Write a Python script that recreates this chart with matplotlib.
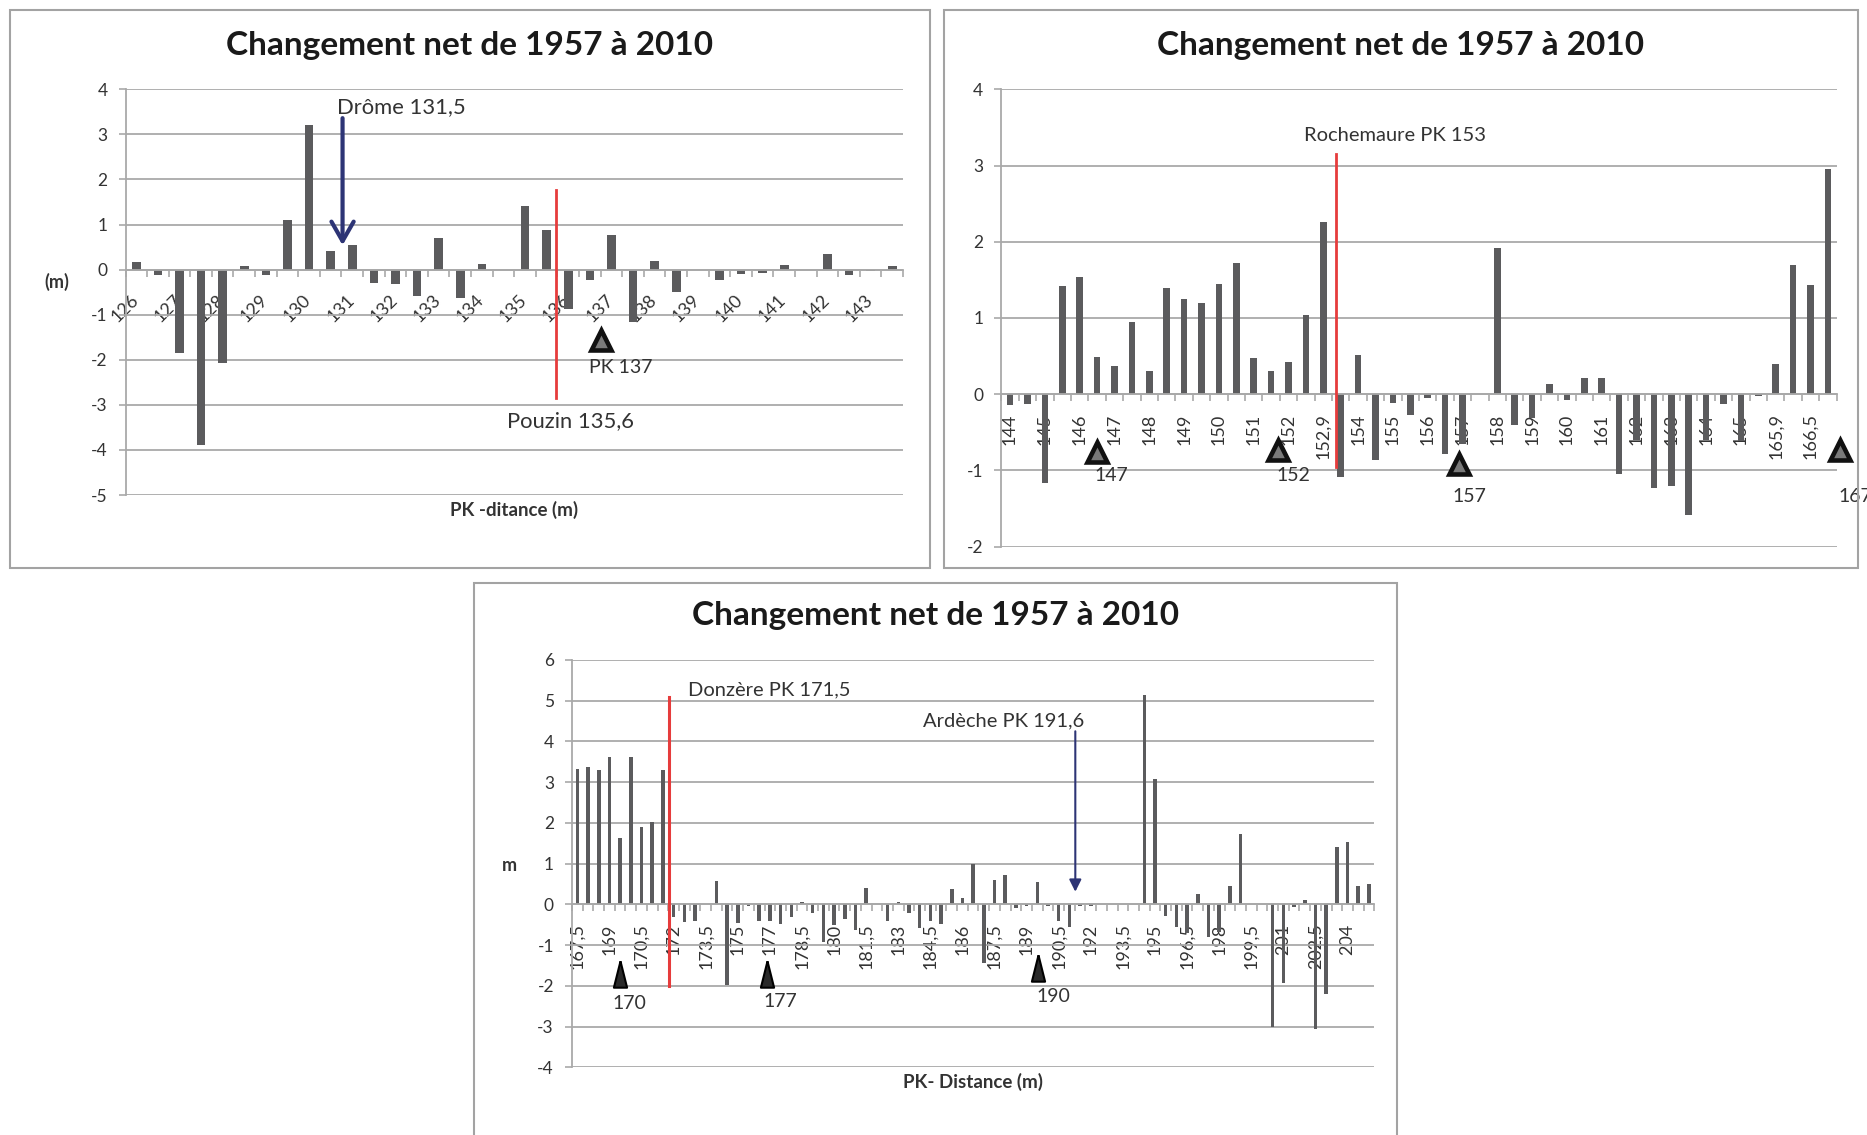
import numpy as np
import matplotlib
matplotlib.use('Agg')
import matplotlib.pyplot as plt
from matplotlib.patches import Rectangle
from matplotlib.transforms import ScaledTranslation

plt.rcParams['font.family'] = ['Lato', 'DejaVu Sans']
plt.rcParams['axes.unicode_minus'] = False

TITLE = 'Changement net de 1957 à 2010'

# panneau 1 : PK 126 a 143,5 (pas de 0,5)
p1_labels = ['126', '127', '128', '129', '130', '131', '132', '133', '134',
             '135', '136', '137', '138', '139', '140', '141', '142', '143']
p1_values = [0.17, -0.13, -1.85, -3.9, -2.07, 0.07, -0.13, 1.11, 3.21,
             0.41, 0.54, -0.29, -0.33, -0.59, 0.71, -0.64, 0.12, 0.0,
             1.41, 0.87, -0.88, -0.22, 0.77, -1.16, 0.19, -0.5, 0.0,
             -0.22, -0.1, -0.07, 0.1, 0.0, 0.34, -0.13, -0.04, 0.07]

# panneau 2 : PK 144 a 167
p2_labels = ['144', '145', '146', '147', '148', '149', '150', '151', '152',
             '152,9', '154', '155', '156', '157', '158', '159', '160', '161',
             '162', '163', '164', '165', '165,9', '166,5']
p2_values = [-0.14, -0.13, -1.16, 1.42, 1.54, 0.49, 0.37, 0.95, 0.30, 1.40,
             1.25, 1.20, 1.44, 1.72, 0.47, 0.30, 0.42, 1.04, 2.26, -1.09,
             0.52, -0.86, -0.11, -0.27, -0.05, -0.79, -0.65, 0.0, 1.92, -0.41,
             -0.31, 0.13, -0.07, 0.21, 0.21, -1.05, -0.6, -1.23, -1.20, -1.59,
             -0.6, -0.13, -0.62, -0.02, 0.40, 1.69, 1.43, 2.96]

# panneau 3 : PK 167,5 a 205
p3_labels = ['167,5', '169', '170,5', '172', '173,5', '175', '177', '178,5',
             '180', '181,5', '183', '184,5', '186', '187,5', '189', '190,5',
             '192', '193,5', '195', '196,5', '198', '199,5', '201', '202,5', '204']
p3_values = [3.33, 3.37, 3.30, 3.61, 1.64, 3.61, 1.91, 2.02, 3.30,
             -0.3, -0.43, -0.4, 0.0, 0.58, -1.98, -0.45, -0.05, -0.4, -0.42,
             -0.47, -0.3, 0.07, -0.22, -0.93, -0.5, -0.35, -0.63, 0.41, 0.0,
             -0.4, 0.05, -0.22, -0.59, -0.4, -0.47, 0.37, 0.15, 0.98, -1.45,
             0.61, 0.72, -0.1, -0.05, 0.54, -0.05, -0.4, -0.55, -0.05, -0.04,
             0.0, 0.0, 0.0, 0.0, 5.15, 3.08, -0.29, -0.55, -0.7, 0.25, -0.81,
             -0.67, 0.45, 1.73, 0.0, 0.0, -3.02, -1.94, -0.07, 0.1, -3.07,
             -2.21, 1.42, 1.54, 0.45, 0.49]

BAR = '#5b5b5d'
GRID = '#a9a9a9'
RED = '#e63c3c'
NAVY = '#2d3475'
TXT = '#333333'
W, H = 1867, 1135

fig = plt.figure(figsize=(W / 100, H / 100), dpi=100)


def frame(x0, y0, x1, y1):
    fig.patches.append(Rectangle((x0 / W, 1 - y1 / H), (x1 - x0) / W, (y1 - y0) / H,
                                 transform=fig.transFigure, fill=False,
                                 ec='#a3a3a3', lw=1.5))


def panel(rect, values, labels, step, ylim, width, rot, pad, lsize):
    ax = fig.add_axes(rect)
    n = len(values)
    x = np.arange(n)
    ax.bar(x, values, width=width, color=BAR, zorder=2)
    ax.set_xlim(-0.5, n - 0.5)
    ax.set_ylim(*ylim)
    ax.set_yticks(range(ylim[0], ylim[1] + 1))
    ax.yaxis.grid(True, color=GRID, lw=1.3)
    ax.set_axisbelow(True)
    for s in ['top', 'right']:
        ax.spines[s].set_visible(False)
    ax.spines['left'].set_color(GRID)
    ax.spines['bottom'].set_color(GRID)
    ax.spines['left'].set_linewidth(1.3)
    ax.spines['bottom'].set_linewidth(1.3)
    ax.spines['bottom'].set_position(('data', 0))
    ax.set_xticks(np.arange(n + 1) - 0.5)
    ax.set_xticklabels([])
    ax.set_xticks(x[::step], labels, minor=True)
    ax.tick_params(axis='x', which='major', length=5, width=1.2, color=GRID, direction='out')
    ax.tick_params(axis='x', which='minor', length=0, pad=pad, labelsize=lsize,
                   labelcolor=TXT, labelrotation=rot)
    ax.tick_params(axis='y', length=5, width=1.2, color=GRID, pad=8, labelsize=12.5,
                   labelcolor=TXT)
    return ax


def tri(ax, x, y):
    ax.plot(x, y, marker='^', ms=14, mfc='#7a7a7a', mec='#111111', mew=3.3,
            clip_on=False, zorder=6)


# cadres
frame(9.5, 9.5, 930, 568)
frame(944, 9.5, 1858, 568)
frame(474, 583, 1397, 1140)

# titres
for tx, ty in [(470, 45), (1401, 45), (936, 616)]:
    fig.text(tx / W, 1 - ty / H, TITLE, ha='center', va='center', fontsize=24,
             fontweight='bold', color='#1a1a1a')

# ---- panneau 1
ax1 = panel([125.5 / W, 1 - 495 / H, 777.5 / W, 405.7 / H], p1_values, p1_labels,
            2, (-5, 4), 0.40, 45, 16, 13)
for lab in ax1.get_xticklabels(minor=True):
    lab.set_ha('right')
    lab.set_transform(lab.get_transform() + ScaledTranslation(0.05, 0, fig.dpi_scale_trans))
ax1.text(-0.088, 0.525, '(m)', transform=ax1.transAxes, ha='center', va='center',
         fontsize=13, fontweight='bold', color=TXT)
ax1.text(0.5, -0.036, 'PK -ditance (m)', transform=ax1.transAxes, ha='center',
         va='center', fontsize=13.5, fontweight='bold', color=TXT)
ax1.text(9.28, 3.6, 'Drôme 131,5', ha='left', va='center', fontsize=15.8, color=TXT)
ax1.annotate('', xy=(9.55, 0.54), xytext=(9.55, 3.36),
             arrowprops=dict(arrowstyle='->,head_length=0.7,head_width=0.4',
                             color=NAVY, lw=3, shrinkA=0, shrinkB=0, mutation_scale=20))
ax1.plot([19.42, 19.42], [-2.84, 1.76], color=RED, lw=2, zorder=4)
ax1.text(17.15, -3.36, 'Pouzin 135,6', ha='left', va='center', fontsize=15.8, color=TXT)
tri(ax1, 21.5, -1.57)
ax1.text(20.96, -2.18, 'PK 137', ha='left', va='center', fontsize=14, color=TXT)

# ---- panneau 2
ax2 = panel([1001.3 / W, 1 - 546.7 / H, 835.4 / W, 457.4 / H], p2_values, p2_labels,
            2, (-2, 4), 0.38, 90, 13.7, 13)
ax2.plot([18.74, 18.74], [-0.95, 3.15], color=RED, lw=2, zorder=4)
ax2.text(16.9, 3.39, 'Rochemaure PK 153', ha='left', va='center', fontsize=14.5, color=TXT)
for tx, ty in [(5.0, -0.755), (15.4, -0.73), (25.8, -0.91), (47.7, -0.73)]:
    tri(ax2, tx, ty)
for tx, ty, s in [(5.8, -1.06, '147'), (16.3, -1.06, '152'), (26.4, -1.34, '157')]:
    ax2.text(tx, ty, s, ha='center', va='center', fontsize=14, color=TXT)
ax2.text(47.6, -1.34, '167', ha='left', va='center', fontsize=14, color=TXT, clip_on=False)

# ---- panneau 3
ax3 = panel([572 / W, 1 - 1067.3 / H, 802.3 / W, 407.3 / H], p3_values, p3_labels,
            3, (-4, 6), 0.33, 90, 13.7, 13)
ax3.text(-0.078, 0.495, 'm', transform=ax3.transAxes, ha='center', va='center',
         fontsize=13, fontweight='bold', color=TXT)
ax3.text(0.5, -0.036, 'PK- Distance (m)', transform=ax3.transAxes, ha='center',
         va='center', fontsize=13.5, fontweight='bold', color=TXT)
ax3.plot([8.6, 8.6], [-2.0, 5.1], color=RED, lw=2.2, zorder=4)
ax3.text(10.3, 5.27, 'Donzère PK 171,5', ha='left', va='center', fontsize=14.5, color=TXT)
ax3.text(39.85, 4.51, 'Ardèche PK 191,6', ha='center', va='center', fontsize=14.5, color=TXT)
ax3.annotate('', xy=(46.55, 0.31), xytext=(46.55, 4.25),
             arrowprops=dict(arrowstyle='-|>,head_length=0.36,head_width=0.18',
                             color=NAVY, lw=1.5, shrinkA=0, shrinkB=0, mutation_scale=20))
for tx, ty in [(4.0, -1.70), (17.7, -1.70), (43.1, -1.57)]:
    ax3.plot(tx, ty, marker=[(0, 1), (-0.5, -1), (0.5, -1), (0, 1)], ms=19, mfc='#2a2a2a',
             mec='#000000', mew=1.5, zorder=6)
for tx, ty, s in [(4.9, -2.43, '170'), (19.0, -2.39, '177'), (44.5, -2.27, '190')]:
    ax3.text(tx, ty, s, ha='center', va='center', fontsize=14, color=TXT)

fig.savefig('out.png', dpi=100)
